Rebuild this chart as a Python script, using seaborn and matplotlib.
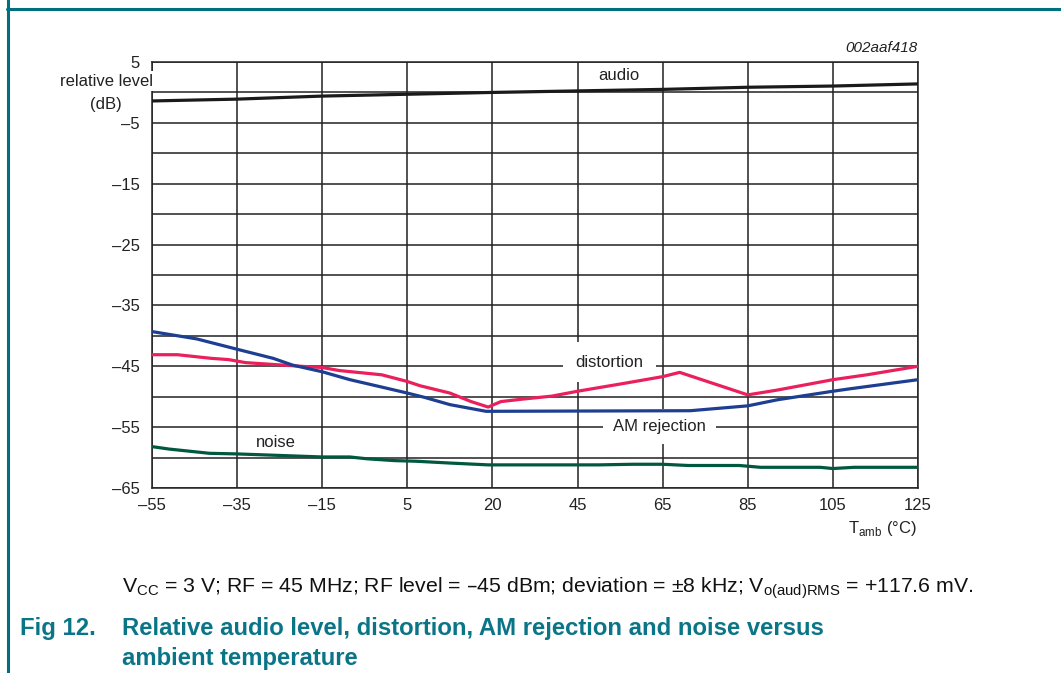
import numpy as np
import pandas as pd
import seaborn as sns
import matplotlib.pyplot as plt
from matplotlib.lines import Line2D

# values
audio_t = [-55, -35, -15, 5, 25, 45, 65, 85, 105, 125]
audio_db = [-1.4, -1.1, -0.6, -0.3, 0.0, 0.25, 0.5, 0.85, 1.05, 1.4]

dist_t = [-55, -49, -41, -37, -33, -20, -15, -11, -1, 5, 8, 15, 20, 24, 27, 32, 39, 45, 56, 65, 69, 85, 92, 105, 113, 125]
dist_db = [-43.1, -43.1, -43.7, -43.9, -44.4, -45.0, -45.2, -45.7, -46.4, -47.5, -48.2, -49.4, -50.8, -51.7, -50.8,
           -50.4, -49.9, -49.1, -47.8, -46.7, -46.0, -49.7, -48.9, -47.2, -46.4, -45.0]

am_t = [-55, -44.5, -35, -26.5, -22, -15, -8.5, -0.5, 5, 9, 15, 23.5, 71.5, 85, 92, 105, 109, 125]
am_db = [-39.3, -40.5, -42.2, -43.7, -44.8, -45.9, -47.2, -48.5, -49.4, -50.1, -51.3, -52.4, -52.3, -51.5, -50.5,
         -49.1, -48.7, -47.2]

noise_t = [-55, -51, -41.5, -35, -15, -8.5, -4.5, 2, 7, 15, 24, 50, 58, 65, 71, 83, 88, 102, 105, 110, 125]
noise_db = [-58.2, -58.6, -59.3, -59.4, -59.9, -59.9, -60.2, -60.5, -60.6, -60.9, -61.2, -61.2, -61.1, -61.1, -61.3,
            -61.3, -61.6, -61.6, -61.8, -61.6, -61.6]

x_ticks = [-55, -35, -15, 5, 25, 45, 65, 85, 105, 125]
x_labels = ["\u201355", "\u201335", "\u201315", "5", "20", "45", "65", "85", "105", "125"]
y_ticks = [-65, -55, -45, -35, -25, -15, -5, 5]
y_labels = ["\u201365", "\u201355", "\u201345", "\u201335", "\u201325", "\u201315", "\u20135", "5"]

sns.set_style("white")
plt.rcParams["font.family"] = ["Liberation Sans", "DejaVu Sans"]

W, H = 1061, 673
fig = plt.figure(figsize=(W / 100, H / 100), dpi=100)
ax = fig.add_axes([152 / W, 1 - 488 / H, (918 - 152) / W, (488 - 62) / H])

grid_col = "#222222"
series = [
    (audio_t, audio_db, "#1a1a1a"),
    (dist_t, dist_db, "#ea1f5c"),
    (am_t, am_db, "#1d3e91"),
    (noise_t, noise_db, "#00583f"),
]
for t, db, c in series:
    df = pd.DataFrame({"t": t, "db": db})
    sns.lineplot(data=df, x="t", y="db", ax=ax, color=c, linewidth=2.3, estimator=None, zorder=3)

ax.set_xlim(-55, 125)
ax.set_ylim(-65, 5)
ax.set_xticks(x_ticks)
ax.set_xticklabels(x_labels)
ax.set_yticks(y_ticks)
ax.set_yticklabels(y_labels)
ax.set_yticks(np.arange(-60, 5, 10), minor=True)
ax.tick_params(which="both", length=0, labelsize=12, colors="#222222")
ax.tick_params(axis="y", pad=9)
ax.tick_params(axis="x", pad=7)
ax.set_axisbelow(True)
ax.grid(True, which="both", color=grid_col, linewidth=1.1)
for s in ax.spines.values():
    s.set_color(grid_col)
    s.set_linewidth(1.1)
ax.set_xlabel("")
ax.set_ylabel("")

# curve labels on white patches (over the grid, under the curves)
def wbox(p):
    return dict(facecolor="white", edgecolor="none", boxstyle="square,pad=%s" % p)

ax.text(54.6, 2.7, "audio", ha="center", va="center", fontsize=12, color="#222222", zorder=1, bbox=wbox(0.2))
ax.text(52.5, -44.3, "distortion", ha="center", va="center", fontsize=12, color="#222222", zorder=1,
        bbox=wbox(0.75))
ax.text(64.3, -54.9, "AM rejection", ha="center", va="center", fontsize=12, color="#222222", zorder=1,
        bbox=wbox(0.6))
ax.text(-25.9, -57.5, "noise", ha="center", va="center", fontsize=12, color="#222222", zorder=1)

# y axis title sits over the left end of the 0 dB grid line
fig.text(106 / W, 1 - 81 / H, "relative level", ha="center", va="center",
         fontsize=12, color="#222222", zorder=5, bbox=wbox(0.15))
fig.text(106 / W, 1 - 104 / H, "(dB)", ha="center", va="center", fontsize=12, color="#222222")
fig.text(918 / W, 1 - 48 / H, "002aaf418", ha="right", va="center", fontsize=11, style="italic", color="#222222")
fig.text(917 / W, 1 - 528 / H, r"T$_{\mathregular{amb}}$ (°C)", ha="right", va="center", fontsize=12,
         color="#222222")

cond = (r"V$_{\mathregular{CC}}$ = 3 V; RF = 45 MHz; RF level = " + "\u2013" +
        r"45 dBm; deviation = $\mathregular{\pm}$8 kHz; V$_{\mathregular{o(aud)RMS}}$ = +117.6 mV.")
fig.text(122 / W, 1 - 588 / H, cond, ha="left", va="center", fontsize=15.3, color="#111111")

teal = "#0b7588"
fig.text(20 / W, 1 - 628 / H, "Fig 12.", ha="left", va="center", fontsize=17.2, fontweight="bold", color=teal)
fig.text(122 / W, 1 - 628 / H, "Relative audio level, distortion, AM rejection and noise versus",
         ha="left", va="center", fontsize=17.2, fontweight="bold", color=teal)
fig.text(122 / W, 1 - 658 / H, "ambient temperature", ha="left", va="center", fontsize=17.2,
         fontweight="bold", color=teal)

# page frame lines
fig.add_artist(Line2D([8.3 / W, 8.3 / W], [0, 1], transform=fig.transFigure, color="#00707f", linewidth=2.2))
fig.add_artist(Line2D([7 / W, 1], [1 - 8.7 / H, 1 - 8.7 / H], transform=fig.transFigure, color="#00707f",
                      linewidth=2.2))

fig.savefig("out.png", dpi=100)
